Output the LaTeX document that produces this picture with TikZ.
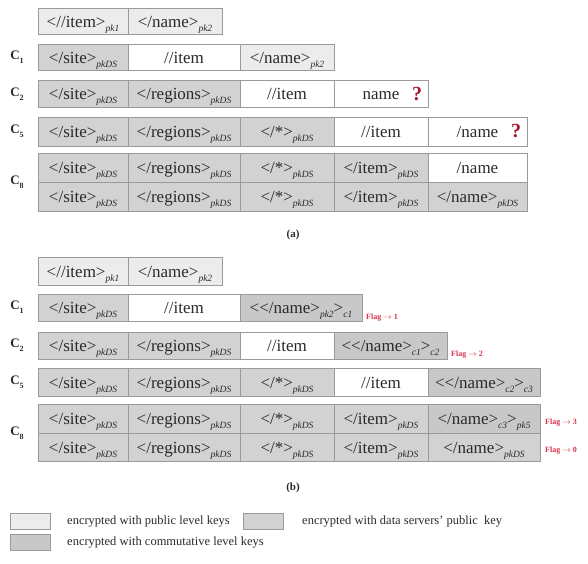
\documentclass[tikz,border=0pt]{standalone}
\usepackage{fontspec}
\setmainfont{Liberation Serif}
\definecolor{pubc}{HTML}{ECECEC}
\definecolor{dsc}{HTML}{D2D2D2}
\definecolor{commc}{HTML}{C8C8C8}
\definecolor{bordc}{HTML}{9A9A9A}
\definecolor{txtc}{HTML}{2A2A2A}
\definecolor{flagc}{HTML}{D8324C}
\definecolor{qmc}{HTML}{A8182E}
\newcommand\sbx[1]{\raisebox{-0.25em}{\fontsize{9.5}{10}\selectfont\itshape #1}}
\newcommand\sbn[1]{\raisebox{-0.3em}{\fontsize{8}{9}\selectfont #1}}
\newcommand\lt{<\kern0pt}
\newcommand\cellfont{\fontsize{17}{19}\selectfont}
\newcommand\cellbox[7]{\node[#6, minimum width={(#3-#2)*1pt}, minimum height={(#5-#4)*1pt}] (#1) at ({(#2+#3)/2},{(#4+#5)/2}) {#7};}
\tikzset{
  cellbase/.style={draw=bordc, line width=0.8pt, inner sep=0pt, font=\cellfont, text=txtc, text height=14pt, text depth=2pt},
  pub/.style={cellbase, fill=pubc},
  ds/.style={cellbase, fill=dsc},
  comm/.style={cellbase, fill=commc},
  plain/.style={cellbase, fill=white},
  clabel/.style={font=\fontsize{13}{14}\selectfont\bfseries, text=txtc, inner sep=0pt},
  flagtxt/.style={font=\fontsize{8}{9}\selectfont\bfseries, text=flagc, anchor=west, inner sep=0pt},
  qm/.style={font=\fontsize{20}{20}\selectfont\bfseries, text=qmc, inner sep=0pt},
  captxt/.style={font=\fontsize{11}{12}\selectfont\bfseries, text=txtc, inner sep=0pt},
  legtext/.style={font=\fontsize{12.5}{13}\selectfont, text=txtc, anchor=west, inner sep=0pt},
}
\begin{document}
\begin{tikzpicture}[x=1pt,y=-1pt]
\useasboundingbox (0,0) rectangle (588,563);
% ---------------- (a) ----------------
\cellbox{at1}{38}{128}{8}{34}{pub}{<//item>\sbx{pk1}}
\cellbox{at2}{128}{222}{8}{34}{pub}{</name>\sbx{pk2}}
% C1
\node[clabel] (la1) at (17,57) {C\sbn{1}};
\cellbox{a11}{38}{128}{44}{70}{ds}{</site>\sbx{pkDS}}
\cellbox{a12}{128}{240}{44}{70}{plain}{//item}
\cellbox{a13}{240}{334}{44}{70}{pub}{</name>\sbx{pk2}}
% C2
\node[clabel] (la2) at (17,94) {C\sbn{2}};
\cellbox{a21}{38}{128}{80}{107}{ds}{</site>\sbx{pkDS}}
\cellbox{a22}{128}{240}{80}{107}{ds}{</regions>\sbx{pkDS}}
\cellbox{a23}{240}{334}{80}{107}{plain}{//item}
\cellbox{a24}{334}{428}{80}{107}{plain}{name}
\node[qm] (qa2) at (417,94) {?};
% C5
\node[clabel] (la5) at (17,131) {C\sbn{5}};
\cellbox{a51}{38}{128}{117}{146}{ds}{</site>\sbx{pkDS}}
\cellbox{a52}{128}{240}{117}{146}{ds}{</regions>\sbx{pkDS}}
\cellbox{a53}{240}{334}{117}{146}{ds}{</*>\sbx{pkDS}}
\cellbox{a54}{334}{428}{117}{146}{plain}{//item}
\cellbox{a55}{428}{527}{117}{146}{plain}{/name}
\node[qm] (qa5) at (516,131) {?};
% C8
\node[clabel] (la8) at (17,182) {C\sbn{8}};
\cellbox{a81}{38}{128}{153}{182}{ds}{</site>\sbx{pkDS}}
\cellbox{a82}{128}{240}{153}{182}{ds}{</regions>\sbx{pkDS}}
\cellbox{a83}{240}{334}{153}{182}{ds}{</*>\sbx{pkDS}}
\cellbox{a84}{334}{428}{153}{182}{ds}{</item>\sbx{pkDS}}
\cellbox{a85}{428}{527}{153}{182}{plain}{/name}
\cellbox{a91}{38}{128}{182}{211}{ds}{</site>\sbx{pkDS}}
\cellbox{a92}{128}{240}{182}{211}{ds}{</regions>\sbx{pkDS}}
\cellbox{a93}{240}{334}{182}{211}{ds}{</*>\sbx{pkDS}}
\cellbox{a94}{334}{428}{182}{211}{ds}{</item>\sbx{pkDS}}
\cellbox{a95}{428}{527}{182}{211}{ds}{</name>\sbx{pkDS}}
\node[captxt] (capa) at (293,235) {(a)};
% ---------------- (b) ----------------
\cellbox{bt1}{38}{128}{257}{285}{pub}{<//item>\sbx{pk1}}
\cellbox{bt2}{128}{222}{257}{285}{pub}{</name>\sbx{pk2}}
% C1
\node[clabel] (lb1) at (17,307) {C\sbn{1}};
\cellbox{b11}{38}{128}{294}{321}{ds}{</site>\sbx{pkDS}}
\cellbox{b12}{128}{240}{294}{321}{plain}{//item}
\cellbox{b13}{240}{362}{294}{321}{comm}{\lt</name>\sbx{pk2}>\sbx{c1}}
\node[flagtxt] (fb1) at (366,318) {Flag $\rightarrow$ 1};
% C2
\node[clabel] (lb2) at (17,345) {C\sbn{2}};
\cellbox{b21}{38}{128}{332}{359}{ds}{</site>\sbx{pkDS}}
\cellbox{b22}{128}{240}{332}{359}{ds}{</regions>\sbx{pkDS}}
\cellbox{b23}{240}{334}{332}{359}{plain}{//item}
\cellbox{b24}{334}{447}{332}{359}{comm}{\lt</name>\sbx{c1}>\sbx{c2}}
\node[flagtxt] (fb2) at (451,355) {Flag $\rightarrow$ 2};
% C5
\node[clabel] (lb5) at (17,382) {C\sbn{5}};
\cellbox{b51}{38}{128}{368}{396}{ds}{</site>\sbx{pkDS}}
\cellbox{b52}{128}{240}{368}{396}{ds}{</regions>\sbx{pkDS}}
\cellbox{b53}{240}{334}{368}{396}{ds}{</*>\sbx{pkDS}}
\cellbox{b54}{334}{428}{368}{396}{plain}{//item}
\cellbox{b55}{428}{540}{368}{396}{comm}{\lt</name>\sbx{c2}>\sbx{c3}}
% C8
\node[clabel] (lb8) at (17,433) {C\sbn{8}};
\cellbox{b81}{38}{128}{404}{433}{ds}{</site>\sbx{pkDS}}
\cellbox{b82}{128}{240}{404}{433}{ds}{</regions>\sbx{pkDS}}
\cellbox{b83}{240}{334}{404}{433}{ds}{</*>\sbx{pkDS}}
\cellbox{b84}{334}{428}{404}{433}{ds}{</item>\sbx{pkDS}}
\cellbox{b85}{428}{540}{404}{433}{comm}{</name>\sbx{c3}>\sbx{pk5}}
\cellbox{b91}{38}{128}{433}{461}{ds}{</site>\sbx{pkDS}}
\cellbox{b92}{128}{240}{433}{461}{ds}{</regions>\sbx{pkDS}}
\cellbox{b93}{240}{334}{433}{461}{ds}{</*>\sbx{pkDS}}
\cellbox{b94}{334}{428}{433}{461}{ds}{</item>\sbx{pkDS}}
\cellbox{b95}{428}{540}{433}{461}{ds}{</name>\sbx{pkDS}}
\node[flagtxt] (fb3) at (545,423) {Flag $\rightarrow$ 3};
\node[flagtxt] (fb0) at (545,451) {Flag $\rightarrow$ 0};
\node[captxt] (capb) at (293,488) {(b)};
% ---------------- legend ----------------
\cellbox{sw1}{10}{50}{514}{529}{pub}{}
\node[legtext] (lt1) at (67,521) {encrypted with public level keys};
\cellbox{sw2}{243}{283}{514}{529}{ds}{}
\node[legtext] (lt2) at (302,521) {encrypted with data servers' public\ \ key};
\cellbox{sw3}{10}{50}{535}{550}{comm}{}
\node[legtext] (lt3) at (67,542) {encrypted with commutative level keys};
\end{tikzpicture}
\end{document}
